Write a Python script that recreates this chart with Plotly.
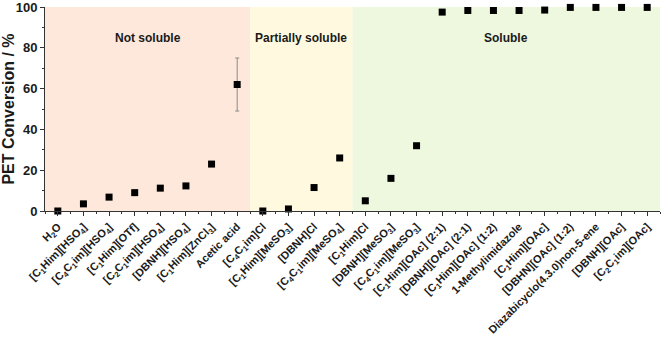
import plotly.graph_objects as go

LABELS = ['H<sub>2</sub>O',
          '[C<sub>1</sub>Him][HSO<sub>4</sub>]',
          '[C<sub>4</sub>C<sub>1</sub>im][HSO<sub>4</sub>]',
          '[C<sub>1</sub>Him][OTf]',
          '[C<sub>2</sub>C<sub>1</sub>im][HSO<sub>4</sub>]',
          '[DBNH][HSO<sub>4</sub>]',
          '[C<sub>1</sub>Him][ZnCl<sub>3</sub>]',
          'Acetic acid',
          '[C<sub>4</sub>C<sub>1</sub>im]Cl',
          '[C<sub>1</sub>Him][MeSO<sub>3</sub>]',
          '[DBNH]Cl',
          '[C<sub>4</sub>C<sub>1</sub>im][MeSO<sub>4</sub>]',
          '[C<sub>1</sub>Him]Cl',
          '[DBNH][MeSO<sub>3</sub>]',
          '[C<sub>4</sub>C<sub>1</sub>im][MeSO<sub>3</sub>]',
          '[C<sub>1</sub>Him][OAc] (2:1)',
          '[DBNH][OAc] (2:1)',
          '[C<sub>1</sub>Him][OAc] (1:2)',
          '1-Methylimidazole',
          '[C<sub>1</sub>Him][OAc]',
          '[DBHN][OAc] (1:2)',
          'Diazabicyclo(4.3.0)non-5-ene',
          '[DBNH][OAc]',
          '[C<sub>2</sub>C<sub>1</sub>im][OAc]']

CONVERSION = [0, 3.5, 6.8, 9.0, 11.2, 12.3, 23.0, 62.0,
              0, 1.0, 11.5, 26.0,
              5.0, 16.0, 32.0, 97.5, 98.3, 98.3, 98.3, 98.5,
              99.8, 99.8, 99.8, 99.8]

ERRORS = [0, 0, 0, 0, 0, 0, 0, 13.0,
          0, 0, 0, 0,
          0, 0, 0, 0, 0, 0, 0, 0,
          0, 0, 0, 0]

REGION_NAMES = ['Not soluble', 'Partially soluble', 'Soluble']
REGION_COUNTS = [8, 4, 12]
REGION_COLORS = ['#FDE8DB', '#FFFADF', '#EDF8DF']

FONT = 'Arial, Liberation Sans, sans-serif'
TEXT_COLOR = '#1a1a1a'
AXIS_COLOR = '#333333'

x = list(range(len(LABELS)))

fig = go.Figure()

start = -0.5
for name, count, color in zip(REGION_NAMES, REGION_COUNTS, REGION_COLORS):
    end = start + count
    fig.add_shape(type='rect', xref='x', yref='y',
                  x0=start, x1=end, y0=0, y1=100,
                  fillcolor=color, line=dict(width=0), layer='below')
    fig.add_annotation(x=(start + end) / 2, y=85, text=name,
                       showarrow=False,
                       font=dict(family=FONT, size=12, color=TEXT_COLOR,
                                 weight='bold'))
    start = end

fig.add_trace(go.Scatter(
    x=x, y=CONVERSION, mode='markers',
    marker=dict(symbol='square', size=7, color='#000000'),
    error_y=dict(type='data', array=ERRORS, color='#8a8a8a',
                 thickness=1, width=2),
    cliponaxis=False, showlegend=False))

fig.update_xaxes(range=[-0.5, start], tickvals=x, ticktext=LABELS,
                 tickangle=-45, ticks='outside', ticklen=4,
                 tickcolor=AXIS_COLOR, showgrid=False, zeroline=False,
                 showline=True, linecolor=AXIS_COLOR, linewidth=1,
                 automargin=False, ticklabeloverflow='allow',
                 tickfont=dict(family=FONT, size=11, color=TEXT_COLOR,
                               weight='bold'),
                 minor=dict(ticks='outside', ticklen=2, tick0=0.5, dtick=1,
                            tickcolor=AXIS_COLOR))

fig.update_yaxes(range=[0, 100], tickvals=[0, 20, 40, 60, 80, 100],
                 ticks='outside', ticklen=4, tickcolor=AXIS_COLOR,
                 showgrid=False, zeroline=False,
                 showline=True, linecolor=AXIS_COLOR, linewidth=1,
                 automargin=False, ticklabeloverflow='allow',
                 tickfont=dict(family=FONT, size=13, color=TEXT_COLOR,
                               weight='bold'),
                 title=dict(text='PET Conversion / %', standoff=0,
                            font=dict(family=FONT, size=16, color=TEXT_COLOR,
                                      weight='bold')),
                 minor=dict(ticks='outside', ticklen=2, dtick=10,
                            tickcolor=AXIS_COLOR))

fig.update_layout(width=662, height=342,
                  margin=dict(l=45, r=2, t=7, b=131),
                  plot_bgcolor='white', paper_bgcolor='white')

# page body has a default margin; drop it so the figure sits at 0,0
fig.write_html("out.html", config={'displayModeBar': False},
               post_script="document.body.style.margin='0';")
